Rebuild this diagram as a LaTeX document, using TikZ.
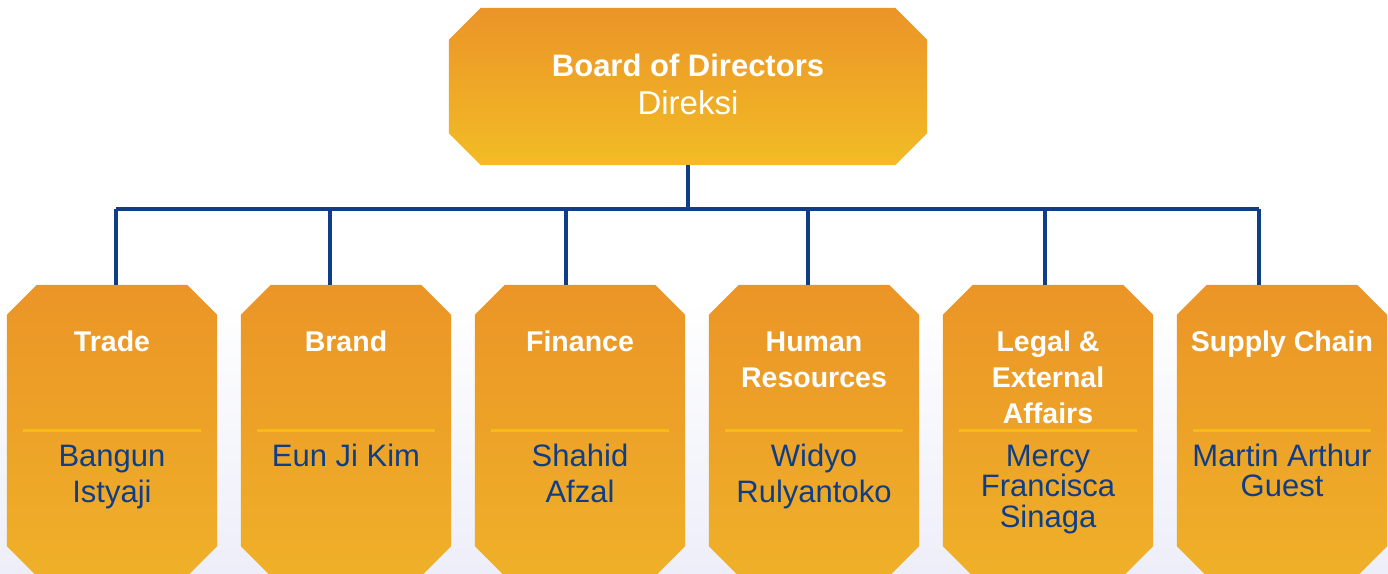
\documentclass[tikz,border=0pt]{standalone}
\usepackage{fontspec}
\setmainfont{Liberation Sans}
\definecolor{navy}{RGB}{16,62,134}
\definecolor{orTop}{RGB}{235,148,40}
\definecolor{orBot}{RGB}{242,188,37}
\definecolor{boxTop}{RGB}{235,149,39}
\definecolor{boxBot}{RGB}{239,176,40}
\definecolor{sepcol}{RGB}{247,186,22}
\definecolor{lav}{RGB}{237,238,249}
\tikzset{
  topbox/.style={rectangle, minimum width=478pt, minimum height=157pt, inner sep=0pt, draw=none},
  deptbox/.style={rectangle, minimum width=210pt, minimum height=291pt, inner sep=0pt, draw=none},
  ttl/.style={anchor=north, align=center, inner sep=0pt, text=white, font=\fontsize{28.5}{36}\selectfont\bfseries},
  nm/.style={anchor=north, align=center, inner sep=0pt, text=navy, font=\fontsize{31}{36}\selectfont},
  nmtight/.style={nm, font=\fontsize{31}{30.5}\selectfont},
  sepline/.style={draw=sepcol, line width=2.5pt},
  conn/.style={draw=navy, line width=3.5pt}
}
\newcommand\octfill[4]{%
  \shade[top color=#3, bottom color=#4]
    ([xshift=#2pt]#1.north west) -- ([xshift=-#2pt]#1.north east) --
    ([yshift=-#2pt]#1.north east) -- ([yshift=#2pt]#1.south east) --
    ([xshift=-#2pt]#1.south east) -- ([xshift=#2pt]#1.south west) --
    ([yshift=#2pt]#1.south west) -- ([yshift=-#2pt]#1.north west) -- cycle;}
\begin{document}
\begin{tikzpicture}[x=1pt,y=-1pt]
\useasboundingbox (0,0) rectangle (1388,573);
\fill[white] (0,0) rectangle (1388,573);
\shade[top color=white, bottom color=lav] (0,300) rectangle (1388,573);

% junctions on the bar
\coordinate (j1) at (116,209);
\coordinate (j2) at (330,209);
\coordinate (j3) at (566,209);
\coordinate (j4) at (808,209);
\coordinate (j5) at (1045,209);
\coordinate (j6) at (1259,209);

% boxes
\node[topbox] (top) at (688,86.5) {};
\node[deptbox] (b1) at (112,430.5) {};
\node[deptbox] (b2) at (346,430.5) {};
\node[deptbox] (b3) at (580,430.5) {};
\node[deptbox] (b4) at (814,430.5) {};
\node[deptbox] (b5) at (1048,430.5) {};
\node[deptbox] (b6) at (1282,430.5) {};
\octfill{top}{32}{orTop}{orBot}
\foreach \i in {1,...,6} {\octfill{b\i}{30}{boxTop}{boxBot}}

\draw[conn] (top.south) -- (top.south |- j1);
\draw[conn] (j1) -- (j6);
\foreach \i in {1,...,6} {
  \draw[conn] (j\i) -- (j\i |- b\i.north);
}

% top texts
\node[anchor=north, inner sep=0pt, text=white, font=\fontsize{31}{38}\selectfont\bfseries] (bt) at (688,50) {\rule{0pt}{26pt}Board of Directors};
\node[anchor=north, inner sep=0pt, text=white, font=\fontsize{33}{38}\selectfont] (bs) at (688,88) {\rule{0pt}{26pt}Direksi};

% separators
\foreach \i in {1,...,6} {
  \draw[sepline] ([xshift=16pt]b\i.west) -- ([xshift=-16pt]b\i.east);
}

% titles
\node[ttl] (t1) at (112,327) {\rule{0pt}{24pt}Trade};
\node[ttl] (t2) at (346,327) {\rule{0pt}{24pt}Brand};
\node[ttl] (t3) at (580,327) {\rule{0pt}{24pt}Finance};
\node[ttl] (t4) at (814,327) {\rule{0pt}{24pt}Human\\Resources};
\node[ttl] (t5) at (1048,327) {\rule{0pt}{24pt}Legal \&\\External\\Affairs};
\node[ttl] (t6) at (1282,327) {\rule{0pt}{24pt}Supply Chain};

% names
\node[nm] (n1) at (112,442) {\rule{0pt}{24pt}Bangun\\Istyaji};
\node[nm] (n2) at (346,442) {\rule{0pt}{24pt}Eun Ji Kim};
\node[nm] (n3) at (580,442) {\rule{0pt}{24pt}Shahid\\Afzal};
\node[nm] (n4) at (814,442) {\rule{0pt}{24pt}Widyo\\Rulyantoko};
\node[nmtight] (n5) at (1048,442) {\rule{0pt}{24pt}Mercy\\Francisca\\Sinaga};
\node[nmtight] (n6) at (1282,442) {\rule{0pt}{24pt}Martin Arthur\\Guest};
\end{tikzpicture}
\end{document}
